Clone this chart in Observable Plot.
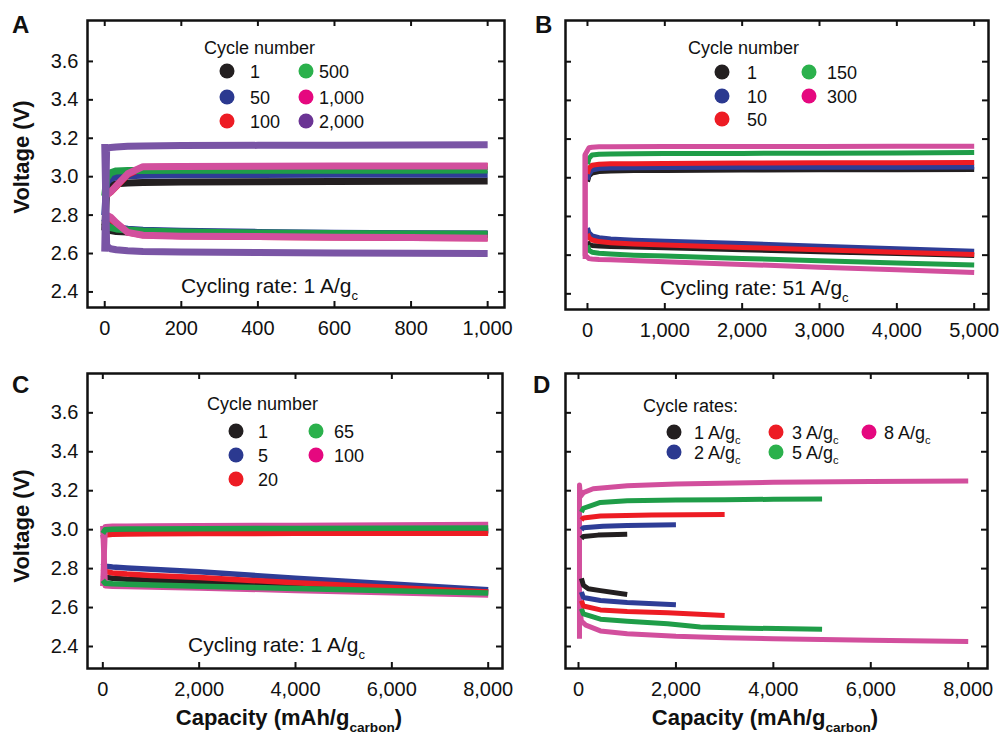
<!DOCTYPE html>
<html><head><meta charset="utf-8">
<script src="https://cdn.jsdelivr.net/npm/d3@7"></script>
<script src="https://cdn.jsdelivr.net/npm/@observablehq/plot@0.6"></script>
<style>
body{margin:0;background:#fff;}
#fig{position:relative;width:1004px;height:738px;overflow:hidden;background:#fff;}
#fig > svg{position:absolute;}
</style></head><body><div id="fig"></div>
<script>
// ---------------- DATA ----------------
const yTicks = [2.4, 2.6, 2.8, 3.0, 3.2, 3.4, 3.6];

// Panel A (1 A/g, cycle numbers)
const aSeries = ["1", "50", "100", "500", "1,000", "2,000"];
const aXTicks = [0, 200, 400, 600, 800, 1000];
const aCap = [0, 5, 15, 30, 60, 100, 200, 400, 600, 800, 1000];
const aCharge = [
  [2.72, 2.93, 2.955, 2.963, 2.967, 2.970, 2.972, 2.974, 2.975, 2.976, 2.977],
  [2.80, 2.97, 2.99, 3.000, 3.005, 3.008, 3.010, 3.011, 3.012, 3.012, 3.013],
  [2.90, 2.905, 2.92, 2.95, 3.012, 3.048, 3.050, 3.051, 3.052, 3.052, 3.053],
  [2.90, 2.99, 3.02, 3.030, 3.032, 3.032, 3.033, 3.033, 3.034, 3.034, 3.035],
  [2.90, 2.905, 2.92, 2.952, 3.015, 3.052, 3.053, 3.054, 3.055, 3.055, 3.056],
  [2.61, 3.15, 3.152, 3.155, 3.158, 3.160, 3.162, 3.163, 3.164, 3.165, 3.166]
];
const aDischarge = [
  [2.76, 2.73, 2.72, 2.715, 2.712, 2.710, 2.706, 2.703, 2.701, 2.700, 2.700],
  [2.78, 2.75, 2.74, 2.735, 2.726, 2.721, 2.716, 2.710, 2.706, 2.703, 2.701],
  [2.80, 2.795, 2.785, 2.755, 2.712, 2.698, 2.692, 2.689, 2.686, 2.684, 2.682],
  [2.76, 2.745, 2.735, 2.728, 2.722, 2.717, 2.712, 2.707, 2.704, 2.702, 2.700],
  [2.80, 2.80, 2.79, 2.76, 2.71, 2.695, 2.690, 2.688, 2.685, 2.683, 2.680],
  [3.17, 2.64, 2.625, 2.62, 2.615, 2.611, 2.608, 2.605, 2.603, 2.602, 2.600]
];

// Panel B (51 A/g, cycle numbers)
const bSeries = ["1", "10", "50", "150", "300"];
const bXTicks = [0, 1000, 2000, 3000, 4000, 5000];
const bCap = [0, 20, 60, 150, 300, 600, 1000, 2000, 3000, 4000, 5000];
const bCap300 = [-30, -30, 20, 60, 150, 300, 1000, 2000, 3000, 4000, 5000];
const bCharge = [
  [2.98, 3.01, 3.025, 3.032, 3.035, 3.037, 3.038, 3.040, 3.041, 3.042, 3.043],
  [2.99, 3.02, 3.040, 3.048, 3.050, 3.052, 3.053, 3.054, 3.055, 3.055, 3.056],
  [3.02, 3.05, 3.065, 3.070, 3.072, 3.073, 3.074, 3.076, 3.077, 3.078, 3.079],
  [3.07, 3.10, 3.118, 3.122, 3.123, 3.124, 3.125, 3.126, 3.127, 3.128, 3.130],
  [2.58, 3.12, 3.155, 3.158, 3.160, 3.160, 3.161, 3.162, 3.162, 3.163, 3.163]
];
const bDischarge = [
  [2.67, 2.655, 2.650, 2.647, 2.645, 2.642, 2.638, 2.628, 2.618, 2.608, 2.598],
  [2.74, 2.715, 2.700, 2.690, 2.683, 2.677, 2.672, 2.660, 2.646, 2.633, 2.620],
  [2.71, 2.69, 2.678, 2.670, 2.664, 2.658, 2.652, 2.640, 2.628, 2.615, 2.603],
  [2.65, 2.625, 2.615, 2.610, 2.606, 2.600, 2.595, 2.583, 2.571, 2.560, 2.549],
  [3.12, 2.60, 2.582, 2.580, 2.578, 2.576, 2.566, 2.552, 2.538, 2.524, 2.510]
];

// Panel C (1 A/g, cycle numbers)
const cSeries = ["1", "5", "20", "65", "100"];
const cXTicks = [0, 2000, 4000, 6000, 8000];
const cCap = [0, 50, 200, 500, 1000, 2000, 4000, 6000, 8000];
const cCharge = [
  [2.96, 2.985, 2.990, 2.992, 2.993, 2.994, 2.995, 2.996, 2.997],
  [2.96, 2.980, 2.985, 2.987, 2.988, 2.989, 2.990, 2.991, 2.992],
  [2.95, 2.972, 2.976, 2.978, 2.979, 2.980, 2.981, 2.981, 2.982],
  [2.98, 3.000, 3.002, 3.003, 3.004, 3.005, 3.006, 3.007, 3.008],
  [2.71, 3.015, 3.017, 3.018, 3.019, 3.020, 3.022, 3.024, 3.026]
];
const cDischarge = [
  [2.77, 2.755, 2.750, 2.745, 2.740, 2.733, 2.714, 2.696, 2.680],
  [2.83, 2.812, 2.808, 2.803, 2.797, 2.784, 2.751, 2.721, 2.692],
  [2.80, 2.785, 2.778, 2.772, 2.765, 2.754, 2.727, 2.703, 2.680],
  [2.74, 2.725, 2.722, 2.720, 2.716, 2.710, 2.698, 2.686, 2.675],
  [3.02, 2.712, 2.710, 2.708, 2.706, 2.701, 2.688, 2.676, 2.664]
];

// Panel D (different cycle rates, A/g)
const dRates = ["1", "2", "3", "5", "8"];
const dXTicks = [0, 2000, 4000, 6000, 8000];
const dChargeCap = [
  [60, 100, 400, 1000],
  [60, 100, 500, 1000, 2000],
  [60, 100, 450, 1500, 3000],
  [60, 100, 450, 1000, 2000, 3000, 4000, 5000],
  [20, 20, 40, 100, 300, 1000, 2000, 4000, 6000, 8000]
];
const dCharge = [
  [2.955, 2.965, 2.972, 2.976],
  [3.00, 3.010, 3.018, 3.021, 3.025],
  [3.05, 3.060, 3.070, 3.075, 3.078],
  [3.09, 3.110, 3.140, 3.148, 3.152, 3.154, 3.156, 3.158],
  [2.44, 3.23, 3.17, 3.19, 3.21, 3.225, 3.235, 3.243, 3.247, 3.250]
];
const dDischargeCap = [
  [60, 100, 200, 450, 1000],
  [60, 100, 450, 1000, 2000],
  [60, 100, 450, 1000, 1830, 3000],
  [60, 100, 450, 1000, 1830, 2500, 3500, 5000],
  [20, 60, 150, 450, 1000, 2000, 3000, 4000, 6000, 8000]
];
const dDischarge = [
  [2.75, 2.715, 2.697, 2.687, 2.667],
  [2.68, 2.652, 2.636, 2.626, 2.614],
  [2.635, 2.608, 2.588, 2.580, 2.573, 2.559],
  [2.595, 2.568, 2.540, 2.530, 2.517, 2.500, 2.494, 2.489],
  [2.60, 2.53, 2.51, 2.48, 2.465, 2.452, 2.445, 2.44, 2.432, 2.426]
];

// ---------------- STYLE ----------------
const FONT = '"Liberation Sans", Arial, Helvetica, sans-serif';
const INK = "#111";
const lineCols = ["#231f20", "#2e3d96", "#ed1c24", "#1f9d48", "#d24f9d", "#7a55a5"];
const dotCols  = ["#231f20", "#2b3990", "#ed1c24", "#2bb14c", "#e5087f", "#6b3494"];

function buildRows(labels, chargeCap, chargeV, dischCap, dischV, order) {
  const rows = [];
  for (const i of order) {
    const cc = Array.isArray(chargeCap[0]) ? chargeCap[i] : chargeCap;
    const dc = Array.isArray(dischCap[0]) ? dischCap[i] : dischCap;
    cc.forEach((c, j) => rows.push({series: labels[i], phase: "charge", cap: c, v: chargeV[i][j]}));
    dc.forEach((c, j) => rows.push({series: labels[i], phase: "discharge", cap: c, v: dischV[i][j]}));
  }
  return rows;
}

function addText(svg, x, y, parts, {size = 18, weight = "normal", anchor = "start", rotate = 0} = {}) {
  const t = d3.select(svg).append("text")
    .attr("font-family", FONT).attr("font-size", size).attr("font-weight", weight)
    .attr("text-anchor", anchor).attr("fill", INK);
  if (rotate) t.attr("transform", `translate(${x},${y}) rotate(${rotate})`);
  else t.attr("x", x).attr("y", y);
  const shift = size * 0.32;
  let down = false;
  for (const p of parts) {
    if (typeof p === "string") {
      const s = t.append("tspan").text(p);
      if (down) { s.attr("dy", -shift); down = false; }
    } else {
      t.append("tspan").attr("dy", shift).attr("font-size", size * 0.62).text(p.sub);
      down = true;
    }
  }
  return t;
}

function makePanel(cfg) {
  const fw = cfg.width - cfg.ml - cfg.mr;
  const fh = cfg.height - cfg.mt - cfg.mb;
  const marks = [
    Plot.line(cfg.rows, {x: "cap", y: "v", z: d => d.series + "|" + d.phase, stroke: "series",
      strokeWidth: cfg.lw, strokeLinejoin: "round", strokeLinecap: "butt"}),
    Plot.frame({stroke: INK, strokeWidth: 2.5}),
    Plot.tickY(yTicks, {y: d => d, insetRight: fw - 6, stroke: INK, strokeWidth: 2}),
    Plot.tickY(yTicks, {y: d => d, insetLeft: fw - 6, stroke: INK, strokeWidth: 2}),
    Plot.tickX(cfg.xTicks, {x: d => d, insetBottom: fh - 6, stroke: INK, strokeWidth: 2}),
    Plot.tickX(cfg.xTicks, {x: d => d, insetTop: fh - 6, stroke: INK, strokeWidth: 2}),
    Plot.axisX({ticks: cfg.xTicks, tickFormat: d3.format(","), tickSize: 0, tickPadding: 13, fontSize: 20, label: null})
  ];
  if (cfg.yAxis) marks.push(Plot.axisY({ticks: yTicks, tickFormat: d3.format(".1f"), tickSize: 0, tickPadding: 9, fontSize: 20, label: null}));
  const svg = Plot.plot({
    width: cfg.width, height: cfg.height,
    marginLeft: cfg.ml, marginRight: cfg.mr, marginTop: cfg.mt, marginBottom: cfg.mb,
    x: {domain: cfg.xDomain, label: null},
    y: {domain: cfg.yDomain, label: null, axis: cfg.yAxis ? undefined : null},
    color: {type: "ordinal", domain: cfg.labels, range: lineCols.slice(0, cfg.labels.length)},
    style: {fontFamily: FONT, color: INK, background: "transparent", overflow: "visible"},
    marks
  });
  svg.style.left = cfg.left + "px";
  svg.style.top = cfg.top + "px";
  document.getElementById("fig").appendChild(svg);

  // panel letter
  addText(svg, cfg.letterX, cfg.letterY, [cfg.letter], {size: 24, weight: "bold"});
  // legend
  const L = cfg.legend;
  addText(svg, L.titleX, L.titleY, [L.title], {size: 18});
  cfg.legendLabels.forEach((lab, i) => {
    const [col, row] = L.pos(i);
    d3.select(svg).append("circle").attr("cx", L.dotX[col]).attr("cy", L.rowY[row]).attr("r", 7.5).attr("fill", dotCols[i]);
    addText(svg, L.textX[col], L.rowY[row] + 6.5, lab, {size: 18});
  });
  // annotations
  if (cfg.rate) addText(svg, cfg.rate.x, cfg.rate.y, cfg.rate.parts, {size: 21});
  if (cfg.yAxis) addText(svg, 29, cfg.vCenter, ["Voltage (V)"], {size: 22, weight: "bold", anchor: "middle", rotate: -90});
  if (cfg.xTitleX) addText(svg, cfg.xTitleX, 365, ["Capacity (mAh/g", {sub: "carbon"}, ")"], {size: 22, weight: "bold", anchor: "middle"});
  return svg;
}

// Panel A
makePanel({
  rows: buildRows(aSeries, aCap, aCharge, aCap, aDischarge, [0, 1, 2, 3, 4, 5]),
  labels: aSeries, legendLabels: aSeries.map(s => [s]),
  xDomain: [-45, 1044], yDomain: [2.319, 3.813], xTicks: aXTicks, yAxis: true,
  left: 0, top: 0, width: 520, height: 360, ml: 87, mr: 16, mt: 20, mb: 53, lw: 7,
  letter: "A", letterX: 12, letterY: 33, vCenter: 157,
  legend: {title: "Cycle number", titleX: 204, titleY: 54, dotX: [227, 306], textX: [250, 319], rowY: [71, 97, 121],
    pos: i => i < 3 ? [0, i] : [1, i - 3]},
  rate: {x: 181, y: 293, parts: ["Cycling rate: 1 A/g", {sub: "c"}]}
});
// Panel B
makePanel({
  rows: buildRows(bSeries, [bCap, bCap, bCap, bCap, bCap300], bCharge, [bCap, bCap, bCap, bCap, bCap300], bDischarge, [0, 1, 2, 3, 4]),
  labels: bSeries, legendLabels: bSeries.map(s => [s]),
  xDomain: [-284, 5185], yDomain: [2.319, 3.813], xTicks: bXTicks, yAxis: false,
  left: 520, top: 0, width: 484, height: 360, ml: 45, mr: 16, mt: 20, mb: 51, lw: 5,
  letter: "B", letterX: 15, letterY: 33,
  legend: {title: "Cycle number", titleX: 168, titleY: 54, dotX: [202, 289], textX: [227, 307], rowY: [72, 96, 119],
    pos: i => i < 3 ? [0, i] : [1, i - 3]},
  rate: {x: 140, y: 295, parts: ["Cycling rate: 51 A/g", {sub: "c"}]}
});
// Panel C
makePanel({
  rows: buildRows(cSeries, cCap, cCharge, cCap, cDischarge, [0, 1, 2, 4, 3]),
  labels: cSeries, legendLabels: cSeries.map(s => [s]),
  xDomain: [-318, 8297], yDomain: [2.287, 3.802], xTicks: cXTicks, yAxis: true,
  left: 0, top: 360, width: 520, height: 378, ml: 87, mr: 18, mt: 13, mb: 70, lw: 5.5,
  letter: "C", letterX: 12, letterY: 33, vCenter: 166, xTitleX: 289,
  legend: {title: "Cycle number", titleX: 207, titleY: 50, dotX: [236, 316], textX: [258, 334], rowY: [71, 95, 119],
    pos: i => i < 3 ? [0, i] : [1, i - 3]},
  rate: {x: 188, y: 292, parts: ["Cycling rate: 1 A/g", {sub: "c"}]}
});
// Panel D
makePanel({
  rows: buildRows(dRates, dChargeCap, dCharge, dDischargeCap, dDischarge, [4, 3, 2, 1, 0]),
  labels: dRates, legendLabels: dRates.map(r => [r + " A/g", {sub: "c"}]),
  xDomain: [-267, 8396], yDomain: [2.287, 3.802], xTicks: dXTicks, yAxis: false,
  left: 520, top: 360, width: 484, height: 378, ml: 45, mr: 17, mt: 13, mb: 70, lw: 5,
  letter: "D", letterX: 13, letterY: 33, xTitleX: 245,
  legend: {title: "Cycle rates:", titleX: 123, titleY: 52, dotX: [154, 256, 349], textX: [174, 272, 364], rowY: [72, 92],
    pos: i => [Math.floor(i / 2), i % 2]}
});
</script></body></html>
